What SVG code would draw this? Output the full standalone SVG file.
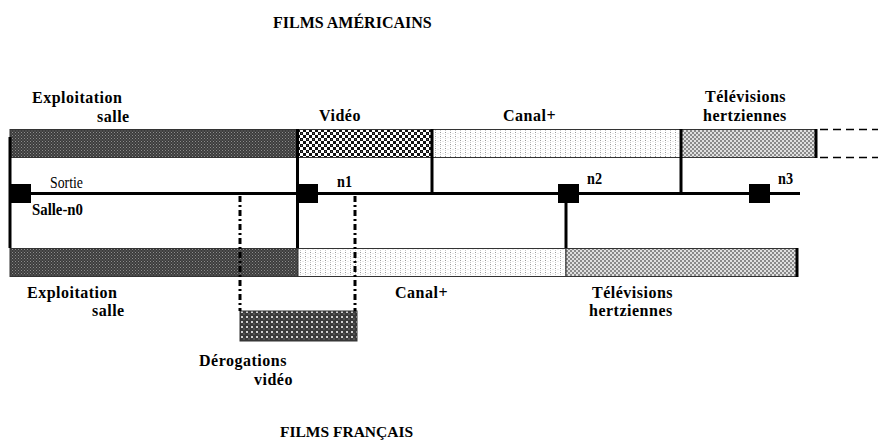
<svg xmlns="http://www.w3.org/2000/svg" width="878" height="441" viewBox="0 0 878 441">
<style>
text{font-family:'Liberation Serif','Times New Roman','DejaVu Serif',serif;fill:#000}
.t{font-weight:bold;font-size:16px;letter-spacing:0.5px}
.title{font-weight:bold;font-size:16px}
.small{font-size:16px}
.sb{font-weight:bold;font-size:16px}
.bar{stroke:#333;stroke-width:1}
.thick{stroke:#000;stroke-width:3;fill:none}
.dd{stroke:#000;stroke-width:3;fill:none;stroke-dasharray:6 3 2 3}
.dash{stroke:#000;stroke-width:1.5;fill:none;stroke-dasharray:8 5}
.node{fill:#000}
</style>
<defs>
<pattern id="pDark" width="3" height="3" patternUnits="userSpaceOnUse">
<rect width="3" height="3" fill="#3c3c3c"/>
<rect x="0" y="0" width="1" height="1" fill="#8c8c8c"/>
<rect x="1.5" y="1.5" width="1" height="1" fill="#7a7a7a"/>
</pattern>
<pattern id="pVid" width="6" height="6" patternUnits="userSpaceOnUse">
<rect width="6" height="6" fill="#fff"/>
<rect x="0" y="0" width="3" height="3" fill="#111"/>
<rect x="3" y="3" width="3" height="3" fill="#111"/>
<rect x="1" y="1" width="1" height="1" fill="#666"/>
</pattern>
<pattern id="pLight" width="5" height="4" patternUnits="userSpaceOnUse">
<rect width="5" height="4" fill="#fff"/>
<rect x="0" y="0" width="1" height="1" fill="#9a9a9a"/>
<rect x="0" y="2" width="1" height="1" fill="#c8c8c8"/>
<rect x="2.5" y="1" width="1" height="1" fill="#d8d8d8"/>
</pattern>
<pattern id="pTv" width="4" height="4" patternUnits="userSpaceOnUse">
<rect width="4" height="4" fill="#e0e0e0"/>
<rect x="0" y="0" width="2" height="2" fill="#8a8a8a"/>
<rect x="2" y="2" width="2" height="2" fill="#8a8a8a"/>
</pattern>
<pattern id="pDer" width="5" height="5" patternUnits="userSpaceOnUse">
<rect width="5" height="5" fill="#3a3a3a"/>
<rect x="1" y="1" width="2" height="2" fill="#d0d0d0"/>
<rect x="3.5" y="3.5" width="1" height="1" fill="#999"/>
</pattern>
</defs>

<g id="titles">
<text class="title" x="273" y="28">FILMS AMÉRICAINS</text>
<text class="title" x="280" y="437" style="font-size:15.5px">FILMS FRANÇAIS</text>
</g>

<g id="us-exploitation">
<rect class="bar" x="10" y="129.5" width="288" height="28" fill="url(#pDark)"/>
<text class="t" x="32" y="103">Exploitation</text>
<text class="t" x="97" y="121.5">salle</text>
</g>
<g id="us-video">
<rect class="bar" x="298" y="129.5" width="134" height="28" fill="url(#pVid)"/>
<text class="t" x="319" y="121">Vidéo</text>
</g>
<g id="us-canal">
<rect class="bar" x="432" y="129.5" width="249" height="28" fill="url(#pLight)"/>
<text class="t" x="503" y="120.5">Canal+</text>
</g>
<g id="us-tv">
<rect class="bar" x="681" y="129.5" width="135" height="28" fill="url(#pTv)"/>
<text class="t" x="705" y="101.5">Télévisions</text>
<text class="t" x="703" y="121">hertziennes</text>
</g>

<g id="fr-exploitation">
<rect class="bar" x="10" y="248.5" width="288" height="28" fill="url(#pDark)"/>
<text class="t" x="27" y="297.5">Exploitation</text>
<text class="t" x="92" y="316">salle</text>
</g>
<g id="fr-canal">
<rect class="bar" x="298" y="248.5" width="268" height="28" fill="url(#pLight)"/>
<text class="t" x="395" y="298">Canal+</text>
</g>
<g id="fr-tv">
<rect class="bar" x="566" y="248.5" width="231" height="28" fill="url(#pTv)"/>
<text class="t" x="592" y="297.5">Télévisions</text>
<text class="t" x="589" y="316">hertziennes</text>
</g>
<g id="fr-derogations">
<rect class="bar" x="240" y="311" width="117" height="30" fill="url(#pDer)"/>
<text class="t" x="199" y="366">Dérogations</text>
<text class="t" x="254" y="384.5">vidéo</text>
</g>

<g id="connectors">
<line class="thick" x1="10" y1="193.5" x2="800" y2="193.5"/>
<line class="thick" x1="10" y1="137" x2="10" y2="248"/>
<line class="thick" x1="297.5" y1="129" x2="297.5" y2="248"/>
<line class="thick" x1="432" y1="129" x2="432" y2="193"/>
<line class="thick" x1="681" y1="129" x2="681" y2="193"/>
<line class="thick" x1="566" y1="193" x2="566" y2="248"/>
<line class="thick" x1="816" y1="129" x2="816" y2="158"/>
<line class="thick" x1="797" y1="248" x2="797" y2="277"/>
<line class="dash" x1="820" y1="129.5" x2="878" y2="129.5"/>
<line class="dash" x1="820" y1="157.5" x2="878" y2="157.5"/>
<line class="dd" x1="240" y1="196" x2="240" y2="311"/>
<line class="dd" x1="355" y1="196" x2="355" y2="311"/>
</g>

<g id="n0">
<rect class="node" x="10" y="184" width="21" height="19"/>
<text class="small" x="50" y="188" textLength="33" lengthAdjust="spacingAndGlyphs">Sortie</text>
<text class="sb" x="32" y="215" textLength="51" lengthAdjust="spacingAndGlyphs">Salle-n0</text>
</g>
<g id="n1">
<rect class="node" x="298" y="184" width="20" height="19"/>
<text class="sb" x="337" y="187" textLength="15" lengthAdjust="spacingAndGlyphs">n1</text>
</g>
<g id="n2">
<rect class="node" x="558" y="184" width="21" height="19"/>
<text class="sb" x="587" y="184" textLength="15" lengthAdjust="spacingAndGlyphs">n2</text>
</g>
<g id="n3">
<rect class="node" x="749" y="184" width="21" height="19"/>
<text class="sb" x="778" y="184" textLength="15" lengthAdjust="spacingAndGlyphs">n3</text>
</g>
</svg>
